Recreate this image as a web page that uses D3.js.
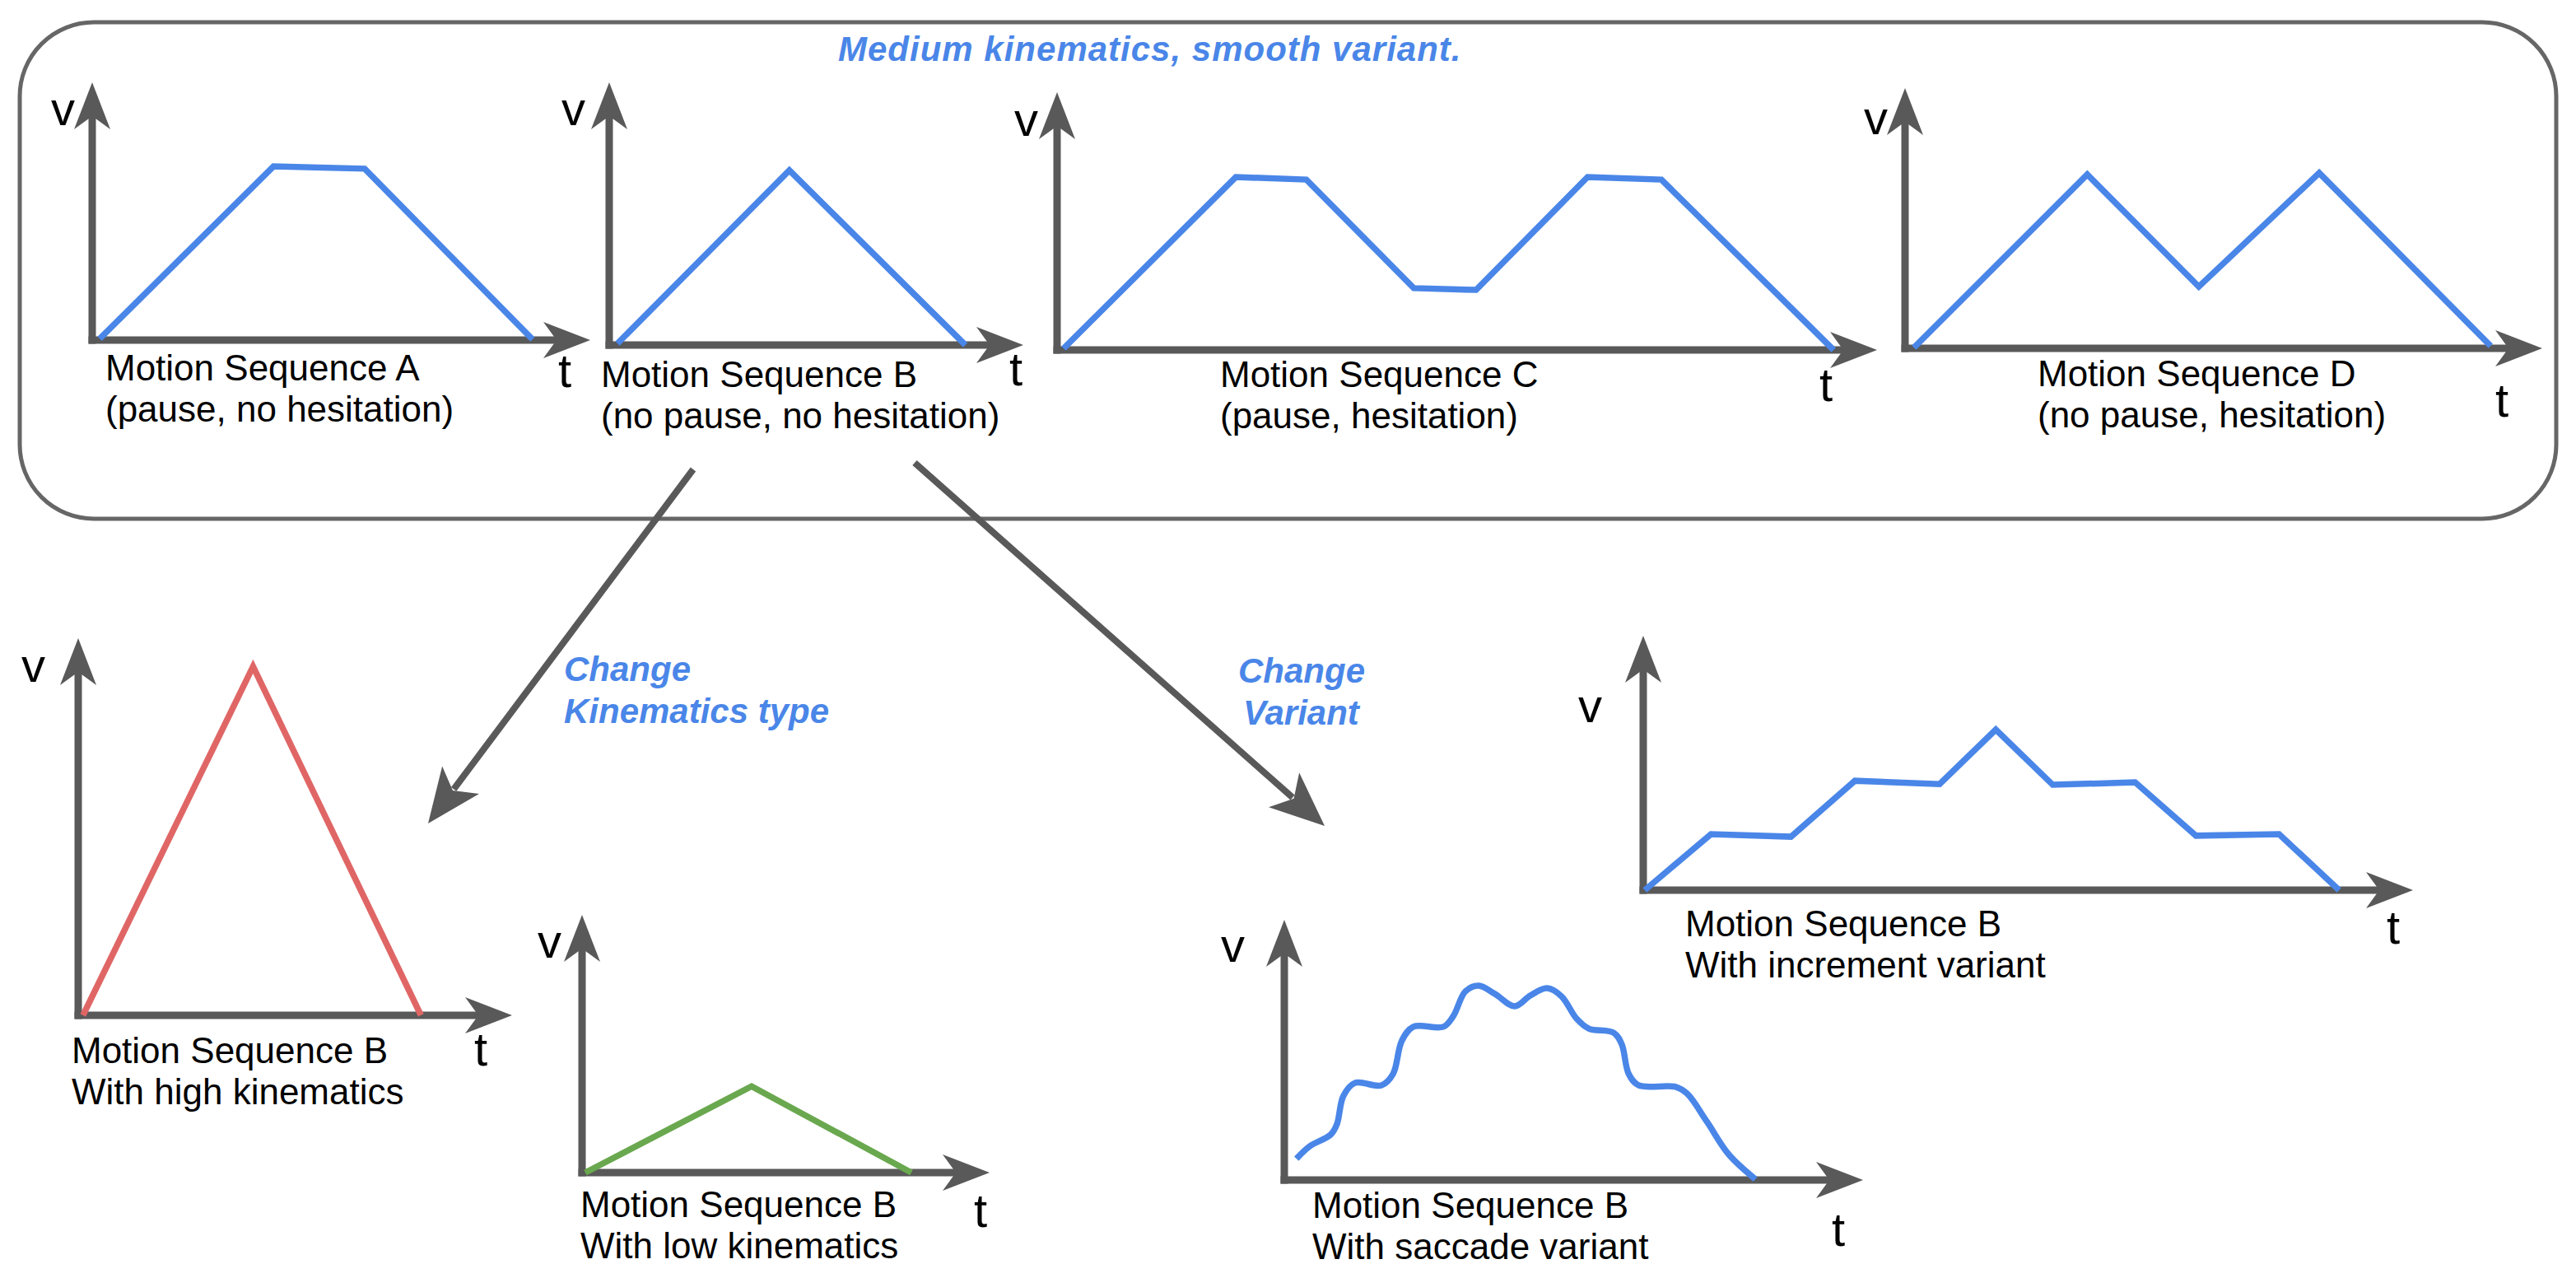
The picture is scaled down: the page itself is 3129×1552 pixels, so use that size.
<!DOCTYPE html>
<html>
<head>
<meta charset="utf-8">
<script src="https://cdn.jsdelivr.net/npm/d3@7"></script>
<style>
  html, body { margin: 0; padding: 0; background: #fff; }
  svg { display: block; }
  text { font-family: "Liberation Sans", Arial, sans-serif; }
</style>
</head>
<body>
<div id="container"></div>
<script>
// velocity profiles, t and v in percent of each panel's axis length
var seqA_t = [1.5, 36.4, 54.7, 88.4];
var seqA_v = [0.5, 67.4, 66.5, 0.3];
var seqB_t = [2, 43.5, 86];
var seqB_v = [0.6, 66.5, 0];
var seqC_t = [0.8, 21.8, 30.4, 43.5, 51.1, 64.7, 73.7, 94.7];
var seqC_v = [0.6, 67.1, 66.1, 24, 23.3, 67.1, 66.1, 0];
var seqD_t = [1.4, 28.6, 46.1, 65.0, 91.9];
var seqD_v = [0.3, 66.8, 23.7, 67.4, 0.9];
var highK_t = [1.1, 40.3, 79.0];
var highK_v = [0, 92.5, 0];
var lowK_t = [0.8, 41.6, 80.8];
var lowK_v = [0, 33.5, 0];
var incr_t = [0.2, 8.8, 19.2, 27.5, 38.5, 45.8, 53.2, 63.9, 71.8, 82.6, 90.4];
var incr_v = [0, 22.0, 21.0, 43.0, 41.7, 63.1, 41.4, 42.4, 21.4, 22.0, 0];
var sacc_t = [2.1, 4.4, 8.0, 9.1, 10.2, 12.2, 16.8, 18.8, 20.3, 22.3, 27.5, 29.2, 31.3, 33.6,
              36.4, 39.8, 42.5, 45.4, 47.9, 50.5, 52.6, 56.9, 58.3, 59.5, 61.2, 67.6, 69.6,
              73.0, 76.8, 81.4];
var sacc_v = [8.2, 13.0, 17.4, 21.5, 32.3, 37.3, 36.4, 40.8, 53.5, 58.9, 58.9, 63.0, 72.5, 74.7,
              71.5, 66.8, 70.9, 73.7, 70.6, 62.0, 58.2, 56.6, 52.2, 40.8, 36.4, 35.8, 33.2,
              22.5, 9.8, 0.3];

var captions = [
  ["Motion Sequence A", "(pause, no hesitation)"],
  ["Motion Sequence B", "(no pause, no hesitation)"],
  ["Motion Sequence C", "(pause, hesitation)"],
  ["Motion Sequence D", "(no pause, hesitation)"],
  ["Motion Sequence B", "With high kinematics"],
  ["Motion Sequence B", "With low kinematics"],
  ["Motion Sequence B", "With increment variant"],
  ["Motion Sequence B", "With saccade variant"]
];
var titleText = "Medium kinematics, smooth variant.";
var changeKinText = ["Change", "Kinematics type"];
var changeVarText = ["Change", "Variant"];

var BLUE = "#4a86e8", RED = "#e06666", GREEN = "#6aa84f", GREY = "#595959";

// panel frames: axis origin, arrow tips, label spots
var panels = [
  {t: seqA_t, v: seqA_v, color: BLUE, ox: 112, oy: 413, xTip: 717, yTip: 100, vl: [62, 152], tl: [686, 470], cap: [128, 462]},
  {t: seqB_t, v: seqB_v, color: BLUE, ox: 740, oy: 419, xTip: 1243, yTip: 100, vl: [682, 152], tl: [1234, 468], cap: [730, 470]},
  {t: seqC_t, v: seqC_v, color: BLUE, ox: 1284, oy: 425, xTip: 2280, yTip: 112, vl: [1232, 165], tl: [2218, 487], cap: [1482, 470]},
  {t: seqD_t, v: seqD_v, color: BLUE, ox: 2314, oy: 423, xTip: 3088, yTip: 107, vl: [2264, 163], tl: [3039, 506], cap: [2475, 469]},
  {t: highK_t, v: highK_v, color: RED, ox: 95, oy: 1233, xTip: 622, yTip: 775, vl: [26, 828], tl: [584, 1294], cap: [87, 1291]},
  {t: lowK_t, v: lowK_v, color: GREEN, ox: 707, oy: 1424, xTip: 1202, yTip: 1111, vl: [653, 1163], tl: [1191, 1490], cap: [705, 1478]},
  {t: incr_t, v: incr_v, color: BLUE, ox: 1996, oy: 1081, xTip: 2931, yTip: 772, vl: [1917, 877], tl: [2907, 1146], cap: [2047, 1137]},
  {t: sacc_t, v: sacc_v, color: BLUE, ox: 1560, oy: 1433, xTip: 2263, yTip: 1117, vl: [1483, 1168], tl: [2233, 1513], cap: [1594, 1479], smooth: true}
];

var W = 3129, H = 1552;
var svg = d3.select("div#container")
  .append("svg")
  .attr("width", W)
  .attr("height", H)
  .attr("viewBox", "0 0 " + W + " " + H);

// notched arrow head, tip at (x, y), pointing along angle a
function headPath(x, y, a, L, hw, notch) {
  var pts = [[0, 0], [-L, -hw], [-L + notch, 0], [-L, hw]];
  var c = Math.cos(a), s = Math.sin(a);
  return "M" + pts.map(function(p) {
    return [x + p[0] * c - p[1] * s, y + p[0] * s + p[1] * c].join(",");
  }).join("L") + "Z";
}

// outer rounded frame
svg.append("rect")
  .attr("x", 24).attr("y", 27)
  .attr("width", 3081).attr("height", 603)
  .attr("rx", 90).attr("ry", 90)
  .attr("fill", "none")
  .attr("stroke", "#666")
  .attr("stroke-width", 5);

svg.append("text")
  .attr("x", 1018).attr("y", 74)
  .attr("fill", BLUE)
  .attr("font-size", 42)
  .attr("font-weight", "bold")
  .attr("font-style", "italic")
  .attr("letter-spacing", 1)
  .text(titleText);

var AX_W = 9, HEAD_L = 57, HEAD_W = 22, HEAD_N = 16;

panels.forEach(function(p, i) {
  var g = svg.append("g").attr("class", "panel-" + i);
  var x = d3.scaleLinear().domain([0, 100]).range([p.ox, p.xTip]);
  var y = d3.scaleLinear().domain([0, 100]).range([p.oy, p.yTip]);

  // axis lines stop under the arrow heads
  var xAxisScale = x.copy().range([p.ox - AX_W / 2, p.xTip - HEAD_L + HEAD_N + 2]);
  var yAxisScale = y.copy().range([p.oy + AX_W / 2, p.yTip + HEAD_L - HEAD_N - 2]);

  g.append("g")
    .attr("transform", "translate(0," + p.oy + ")")
    .call(d3.axisBottom(xAxisScale).tickValues([]).tickSizeOuter(0))
    .call(function(a) {
      a.select(".domain").attr("stroke", GREY).attr("stroke-width", AX_W)
        .attr("d", "M" + xAxisScale.range()[0] + ",0H" + xAxisScale.range()[1]);
    });
  g.append("g")
    .attr("transform", "translate(" + p.ox + ",0)")
    .call(d3.axisLeft(yAxisScale).tickValues([]).tickSizeOuter(0))
    .call(function(a) {
      a.select(".domain").attr("stroke", GREY).attr("stroke-width", AX_W)
        .attr("d", "M0," + yAxisScale.range()[0] + "V" + yAxisScale.range()[1]);
    });

  g.append("path")
    .attr("d", headPath(p.xTip, p.oy, 0, HEAD_L, HEAD_W, HEAD_N))
    .attr("fill", GREY);
  g.append("path")
    .attr("d", headPath(p.ox, p.yTip, -Math.PI / 2, HEAD_L, HEAD_W, HEAD_N))
    .attr("fill", GREY);

  var pts = p.t.map(function(t, k) { return {t: t, v: p.v[k]}; });
  var line = d3.line()
    .x(function(d) { return x(d.t); })
    .y(function(d) { return y(d.v); })
    .curve(p.smooth ? d3.curveCatmullRom.alpha(0.5) : d3.curveLinear);

  g.append("path")
    .datum(pts)
    .attr("fill", "none")
    .attr("stroke", p.color)
    .attr("stroke-width", 7.5)
    .attr("stroke-linejoin", "miter")
    .attr("d", line);

  g.append("text")
    .attr("x", p.vl[0]).attr("y", p.vl[1])
    .attr("font-size", 58)
    .attr("fill", "#000")
    .text("v");
  g.append("text")
    .attr("x", p.tl[0]).attr("y", p.tl[1])
    .attr("text-anchor", "middle")
    .attr("font-size", 58)
    .attr("fill", "#000")
    .text("t");

  g.append("text")
    .attr("font-size", 44)
    .attr("fill", "#000")
    .selectAll("tspan")
    .data(captions[i])
    .enter().append("tspan")
    .attr("x", p.cap[0])
    .attr("y", function(d, k) { return p.cap[1] + k * 50; })
    .text(function(d) { return d; });
});

// transition arrows
var arrows = [
  {from: [842, 570], to: [520, 1000]},
  {from: [1111, 562], to: [1609, 1003]}
];
arrows.forEach(function(a) {
  var dx = a.to[0] - a.from[0], dy = a.to[1] - a.from[1];
  var len = Math.sqrt(dx * dx + dy * dy), ang = Math.atan2(dy, dx);
  var back = 66 - 16 + 2;
  svg.append("line")
    .attr("x1", a.from[0]).attr("y1", a.from[1])
    .attr("x2", a.to[0] - dx / len * back).attr("y2", a.to[1] - dy / len * back)
    .attr("stroke", GREY)
    .attr("stroke-width", 8);
  svg.append("path")
    .attr("d", headPath(a.to[0], a.to[1], ang, 66, 28, 16))
    .attr("fill", GREY);
});

function blueNote(lines, x0, y0, xs) {
  svg.append("text")
    .attr("fill", BLUE)
    .attr("font-size", 42)
    .attr("font-weight", "bold")
    .attr("font-style", "italic")
    .selectAll("tspan")
    .data(lines)
    .enter().append("tspan")
    .attr("x", function(d, k) { return xs[k]; })
    .attr("y", function(d, k) { return y0 + k * 51; })
    .text(function(d) { return d; });
}
blueNote(changeKinText, 685, 827, [685, 685]);
blueNote(changeVarText, 1504, 829, [1504, 1510]);
</script>
</body>
</html>
